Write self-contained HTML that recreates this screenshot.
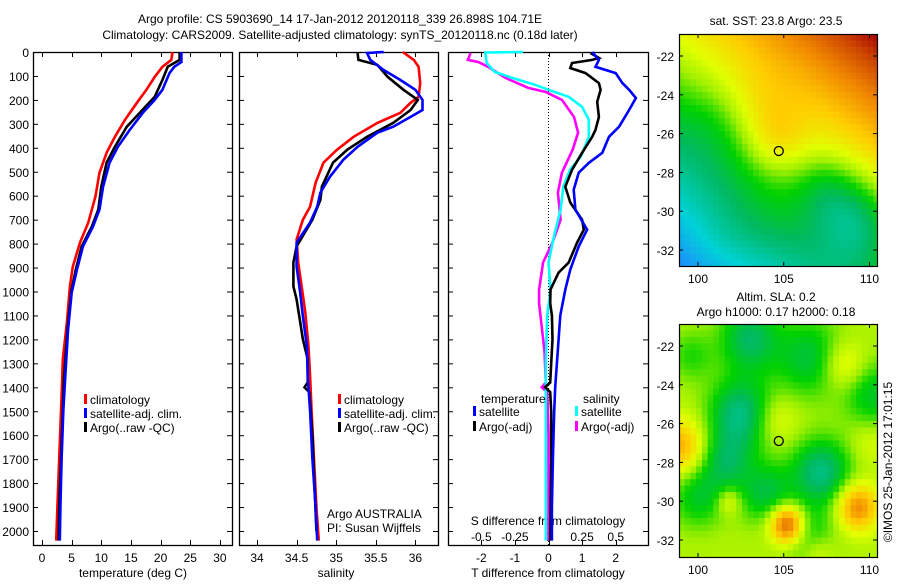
<!DOCTYPE html>
<html><head><meta charset="utf-8"><style>
body{margin:0;background:#fff;}
svg text{font-family:"Liberation Sans",sans-serif;font-size:12px;fill:#000;}
</style></head><body>
<svg id="chart" width="900" height="580" viewBox="0 0 900 580" xmlns="http://www.w3.org/2000/svg">
<rect width="900" height="580" fill="#fff"/>
<text x="340" y="23" text-anchor="middle" font-size="13">Argo profile: CS 5903690_14 17-Jan-2012 20120118_339 26.898S 104.71E</text>
<text x="340" y="39" text-anchor="middle" font-size="13">Climatology: CARS2009. Satellite-adjusted climatology: synTS_20120118.nc (0.18d later)</text>
<g id="panels"></g>
<g id="maps"></g>
<text transform="translate(892,462) rotate(-90)" text-anchor="middle">©IMOS 25-Jan-2012 17:01:15</text>
</svg>
<script>
// ---- data ----
const tempRedD=[0,33,62,104,158,212,283,354,421,504,604,712,796,896,979,1129,1283,1367,1500,1700,1900,2040];
const tempRedV=[22,21.8,20.3,19.0,17.6,16.0,14.0,12.3,10.9,9.7,9.0,7.8,6.4,5.2,4.7,4.2,3.5,3.4,3.2,2.9,2.6,2.4];
const tempBlueD=[0,42,62,88,158,200,254,325,396,462,562,658,729,812,908,1004,1158,1367,1500,1700,1900,2040];
const tempBlueV=[23.5,23.5,22.3,21.5,20.3,19.0,17.0,14.8,12.8,11.4,10.3,9.7,8.6,6.9,5.9,5.0,4.4,3.9,3.6,3.3,3.1,3.0];
const tempBlackD=[0,33,62,117,187,254,312,396,462,562,658,729,812,908,1004,1158,1367,1500,1700,1900,2040];
const tempBlackV=[23.2,23.2,21.2,20.3,19.0,16.5,14.3,12.3,10.9,10.0,9.5,8.4,6.7,5.7,4.9,4.3,3.7,3.5,3.2,2.9,2.8];
const salRedD=[0,33,62,130,187,212,254,296,354,408,462,546,646,700,783,879,992,1087,1229,1354,1500,1700,1900,2040];
const salRedV=[35.84,35.98,36.04,36.06,36.04,35.94,35.81,35.52,35.22,35.01,34.84,34.74,34.67,34.58,34.5,34.52,34.57,34.61,34.65,34.67,34.69,34.72,34.75,34.78];
const salBlueD=[0,4,33,75,117,158,200,242,271,312,337,396,450,521,587,646,712,796,896,992,1104,1229,1354,1500,1700,1900,2040];
const salBlueV=[35.6,35.39,35.43,35.6,35.81,36.0,36.09,36.09,35.94,35.72,35.52,35.27,35.09,34.92,34.8,34.76,34.67,34.5,34.5,34.54,34.58,34.63,34.64,34.67,34.7,34.74,34.76];
const salBlackD=[4,33,54,104,158,200,242,296,354,408,462,562,617,700,812,879,979,1033,1117,1200,1283,1380,1400,1420,1600,2000];
const salBlackV=[35.27,35.28,35.52,35.65,35.85,36.03,35.94,35.72,35.39,35.14,34.96,34.82,34.8,34.7,34.5,34.46,34.46,34.5,34.54,34.58,34.64,34.64,34.6,34.66,34.7,34.75];
const dTSatD=[0,33,62,88,130,158,192,242,312,354,421,463,504,575,658,742,812,908,992,1100,1200,1300,1400,1500,1700,1900,2040];
const dTSatV=[1.3,1.5,1.4,2.0,2.2,2.4,2.6,2.4,2.1,1.8,1.6,1.2,0.9,0.75,0.8,1.15,0.9,0.65,0.5,0.35,0.3,0.25,0.2,0.17,0.13,0.1,0.1];
const dTArgoD=[4,25,33,46,67,88,130,158,208,271,325,354,421,492,563,629,700,742,796,879,921,992,1050,1100,1200,1300,1380,1400,1420,1500,1700,2040];
const dTArgoV=[1.25,1.5,1.3,0.7,0.65,1.1,1.5,1.55,1.45,1.5,1.4,1.3,1.0,0.7,0.5,0.65,1.0,1.05,0.85,0.6,0.3,0.06,0.05,0.1,0.12,0.08,0.05,-0.1,0.05,0.08,0.08,0.05];
const dSSatD=[0,2,46,83,108,137,158,187,229,283,354,437,492,563,658,771,879,992,1100,1300,1500,2040];
const dSSatV=[-0.19,-0.47,-0.46,-0.4,-0.27,-0.1,0.0,0.15,0.25,0.3,0.3,0.24,0.16,0.11,0.09,0.04,0.0,0.015,-0.01,-0.02,-0.02,-0.02];
const dSArgoD=[4,33,42,62,108,150,167,200,271,337,408,504,587,700,796,879,992,1050,1150,1250,1380,1400,1420,1600,2040];
const dSArgoV=[-0.58,-0.6,-0.52,-0.45,-0.32,-0.15,-0.02,0.1,0.19,0.22,0.18,0.1,0.07,0.09,0.03,-0.04,-0.07,-0.07,-0.05,-0.03,-0.02,-0.05,-0.01,0.0,0.0];
const depthTicks=[0,100,200,300,400,500,600,700,800,900,1000,1100,1200,1300,1400,1500,1600,1700,1800,1900,2000];
const tempTicks=[0,5,10,15,20,25,30];
const salTicks=[34,34.5,35,35.5,36];
const salTickLabels=["34","34.5","35","35.5","36"];
const dTTicks=[-2,-1,0,1,2];
const dSTicks=[-0.5,-0.25,0,0.25,0.5];
const dSTickLabels=["-0.5","-0.25","0","0.25","0.5"];
// SST map field: base gradient + blobs [lon,lat,amp,sigma]
const sstBlobLon=[104.6,103.5,109.3,107.5,101.5,106.5,101,104];
const sstBlobLat=[-26.3,-24.5,-30.5,-28.8,-31.5,-22.8,-25.5,-30.5];
const sstBlobAmp=[0.12,0.06,-0.2,-0.1,0.04,0.0,-0.05,0.03];
const sstBlobSig=[1.3,1.5,1.6,1.3,1.5,1.5,1.5,1.5];
const slaBlobLon=[102.5,103,106.5,107.2,101.6,100,104,106.5,110.2,99.6,105.2,109.3,99,108.5,104.5,101.8,110,107];
const slaBlobLat=[-25.5,-21.6,-22.6,-28.5,-28,-29.8,-29.6,-31.8,-24.5,-22.5,-31.2,-30.3,-27.2,-23,-25.8,-30,-27,-32.6];
const slaBlobAmp=[-0.26,-0.22,-0.18,-0.26,-0.18,-0.15,-0.18,-0.14,-0.16,-0.1,0.42,0.3,0.24,0.14,0.1,0.12,0.06,0.1];
const slaBlobSig=[1.3,1.2,1.4,1.2,1.1,1.1,1.1,1.1,1.2,0.9,0.7,0.85,1.0,0.9,0.9,0.5,0.8,0.7];

const NS='http://www.w3.org/2000/svg';
const panelsG=document.getElementById('panels');
const mapsG=document.getElementById('maps');
function mk(tag,attrs,parent){const e=document.createElementNS(NS,tag);for(const k in attrs)e.setAttribute(k,attrs[k]);parent.appendChild(e);return e;}
const TOP=52,BOT=545;
function yD(d){return TOP+d*0.2395;}

function panel(name,x0,x1,xs,ticksTop){
  const g=mk('g',{},panelsG);
  
  
  const r=mk('rect',{x:x0+0.5,y:TOP+0.5,width:x1-x0,height:BOT-TOP,fill:'none',stroke:'#000','stroke-width':1.3},g);
  
  
  depthTicks.forEach(d=>{const y=yD(d)+0.5;
    mk('line',{x1:x0,x2:x0+5,y1:y,y2:y,stroke:'#000'},g);
    mk('line',{x1:x1-5,x2:x1,y1:y,y2:y,stroke:'#000'},g);});
  ticksTop.forEach(v=>{const x=Math.round(xs(v))+0.5;
    mk('line',{x1:x,x2:x,y1:TOP,y2:TOP+5,stroke:'#000'},g);
    mk('line',{x1:x,x2:x,y1:BOT-5,y2:BOT,stroke:'#000'},g);});
  return g;
}
function series(g,name,D,V,xs,color){
  const pts=D.map((d,i)=>xs(V[i]).toFixed(1)+','+yD(d).toFixed(1)).join(' ');
  const p=mk('polyline',{points:pts,fill:'none',stroke:color,'stroke-width':2.6,'stroke-linejoin':'miter'},g);
  
  
}
function txt(g,name,x,y,s,anchor){const t=mk('text',{x:x,y:y,'text-anchor':anchor||'start'},g);t.textContent=s;
  
  return t;}
function legend(g,name,x,y,color,label){
  const b=mk('rect',{x:x,y:y-10,width:3,height:10,fill:color},g);
  
  
  txt(g,name,x+6,y,label);
}

// panel 1: temperature
const xT=v=>42+v*5.93;
const p1=panel('temperature-panel',33,232,xT,tempTicks);
depthTicks.forEach(d=>txt(p1,'depth-tick-label',29,yD(d)+5,String(d),'end'));
tempTicks.forEach(v=>txt(p1,'temp-tick-label',xT(v),562,String(v),'middle'));
txt(p1,'temperature-axis-title',133,577,'temperature (deg C)','middle');
series(p1,'temp-climatology-line',tempRedD,tempRedV,xT,'#ff0000');
series(p1,'temp-argo-line',tempBlackD,tempBlackV,xT,'#000000');
series(p1,'temp-satellite-adj-line',tempBlueD,tempBlueV,xT,'#0000ff');
legend(p1,'legend-climatology',84,404,'#ff0000','climatology');
legend(p1,'legend-satellite-adj',84,418,'#0000ff','satellite-adj. clim.');
legend(p1,'legend-argo',84,432,'#000000','Argo(..raw -QC)');

// panel 2: salinity
const xS=v=>257+(v-34)*79.2;
const p2=panel('salinity-panel',239,438,xS,salTicks);
salTicks.forEach((v,i)=>txt(p2,'sal-tick-label',xS(v),562,salTickLabels[i],'middle'));
txt(p2,'salinity-axis-title',336,577,'salinity','middle');
series(p2,'sal-climatology-line',salRedD,salRedV,xS,'#ff0000');
series(p2,'sal-argo-line',salBlackD,salBlackV,xS,'#000000');
series(p2,'sal-satellite-adj-line',salBlueD,salBlueV,xS,'#0000ff');
legend(p2,'legend-climatology-sal',338,404,'#ff0000','climatology');
legend(p2,'legend-satellite-adj-sal',338,418,'#0000ff','satellite-adj. clim.');
legend(p2,'legend-argo-sal',338,432,'#000000','Argo(..raw -QC)');
txt(p2,'float-owner',327,518,'Argo AUSTRALIA');
txt(p2,'principal-investigator',327,532,'PI: Susan Wijffels');

// panel 3: differences
const xDT=v=>548.5+v*33.6;
const xDS=v=>548.5+v*134.4;
const p3=panel('difference-panel',448,648,xDT,dTTicks);
const zl=mk('line',{x1:548.5,x2:548.5,y1:TOP,y2:BOT,stroke:'#000','stroke-dasharray':'1,2'},p3);


dTTicks.forEach(v=>txt(p3,'dt-tick-label',xDT(v),562,String(v),'middle'));
txt(p3,'t-diff-axis-title',548,577,'T difference from climatology','middle');
dSTicks.forEach((v,i)=>txt(p3,'ds-tick-label',xDS(v),541,dSTickLabels[i],'middle'));
txt(p3,'s-diff-axis-title',548,525,'S difference from climatology','middle');
series(p3,'ds-argo-line',dSArgoD,dSArgoV,xDS,'#ff00ff');
series(p3,'ds-satellite-line',dSSatD,dSSatV,xDS,'#00ffff');
series(p3,'dt-argo-line',dTArgoD,dTArgoV,xDT,'#000000');
series(p3,'dt-satellite-line',dTSatD,dTSatV,xDT,'#0000ff');
txt(p3,'legend-temperature-heading',481,403,'temperature');
legend(p3,'legend-dt-satellite',473,416,'#0000ff','satellite');
legend(p3,'legend-dt-argo',473,431,'#000000','Argo(-adj)');
txt(p3,'legend-salinity-heading',583,403,'salinity');
legend(p3,'legend-ds-satellite',575,416,'#00ffff','satellite');
legend(p3,'legend-ds-argo',575,431,'#ff00ff','Argo(-adj)');

// ---- maps ----
const stops=[[0,[30,140,255]],[0.15,[0,210,215]],[0.3,[0,185,95]],[0.4,[0,210,0]],[0.5,[160,240,0]],[0.58,[225,255,0]],[0.7,[255,205,0]],[0.82,[240,135,0]],[0.92,[205,70,0]],[1,[165,0,0]]];
function cmap(v){v=Math.max(0,Math.min(1,v));for(let i=1;i<stops.length;i++){if(v<=stops[i][0]){const a=stops[i-1],b=stops[i],t=(v-a[0])/(b[0]-a[0]);
  return 'rgb('+a[1].map((c,k)=>Math.round(c+(b[1][k]-c)*t)).join(',')+')';}}return 'rgb(165,0,0)';}
function blobs(lon,lat,L,A,M,S){let s=0;for(let i=0;i<L.length;i++){const d2=(lon-L[i])**2+(lat-A[i])**2;s+=M[i]*Math.exp(-d2/(2*S[i]*S[i]));}return s;}
function drawMap(name,y0,y1,lat22y,lat32y,field){
  const x0=679,x1=877;
  const lx=v=>698+(v-100)*17.15;
  const ly=v=>lat22y+(v+22)*(lat32y-lat22y)/(-10);
  const g=mk('g',{},mapsG);
  
  
  const step=1/3;
  const lonMin=(x0-698)/17.15+100,lonMax=(x1-698)/17.15+100;
  const latTop=-22+(y0-lat22y)/((lat32y-lat22y)/-10),latBot=-22+(y1-lat22y)/((lat32y-lat22y)/-10);
  for(let lon=lonMin;lon<lonMax;lon+=step){for(let lat=latTop;lat>latBot;lat-=step){
    const v=field(lon+step/2,lat-step/2);
    const xa=lx(lon),ya=ly(lat);
    const w=Math.min(lx(lon+step),x1)-xa,h=Math.min(ly(lat-step),y1)-ya;
    mk('rect',{x:xa.toFixed(1),y:ya.toFixed(1),width:(w+0.6).toFixed(1),height:(h+0.6).toFixed(1),fill:cmap(v)},g);}}
  const fr=mk('rect',{x:x0+0.5,y:y0+0.5,width:x1-x0,height:y1-y0,fill:'none',stroke:'#000','stroke-width':1.2},g);
  
  
  [-22,-24,-26,-28,-30,-32].forEach(v=>{const y=ly(v);
    mk('line',{x1:x0,x2:x0+4,y1:y,y2:y,stroke:'#000'},g);mk('line',{x1:x1-4,x2:x1,y1:y,y2:y,stroke:'#000'},g);
    txt(g,'lat-tick-label',674,y+5,String(v),'end');});
  [100,105,110].forEach(v=>{const x=lx(v);
    mk('line',{x1:x,x2:x,y1:y0,y2:y0+4,stroke:'#000'},g);mk('line',{x1:x,x2:x,y1:y1-4,y2:y1,stroke:'#000'},g);
    txt(g,'lon-tick-label',x,y1+17,String(v),'middle');});
  const c=mk('circle',{cx:lx(104.71),cy:ly(-26.898),r:4.5,fill:'none',stroke:'#000','stroke-width':1.3},g);
  
  
  return g;
}
const g1=drawMap('sst-map',34,266,56,250,(lon,lat)=>0.5+0.035*(lon-105)+0.05*(lat+27)+blobs(lon,lat,sstBlobLon,sstBlobLat,sstBlobAmp,sstBlobSig));
txt(g1,'sst-map-title',776,25,'sat. SST: 23.8 Argo: 23.5','middle');
const g2=drawMap('sla-map',324,557,346,540,(lon,lat)=>0.52+blobs(lon,lat,slaBlobLon,slaBlobLat,slaBlobAmp,slaBlobSig));
txt(g2,'sla-map-title',776,301,'Altim. SLA: 0.2','middle');
txt(g2,'sla-map-subtitle',776,316,'Argo h1000: 0.17 h2000: 0.18','middle');
</script>
</body></html>
